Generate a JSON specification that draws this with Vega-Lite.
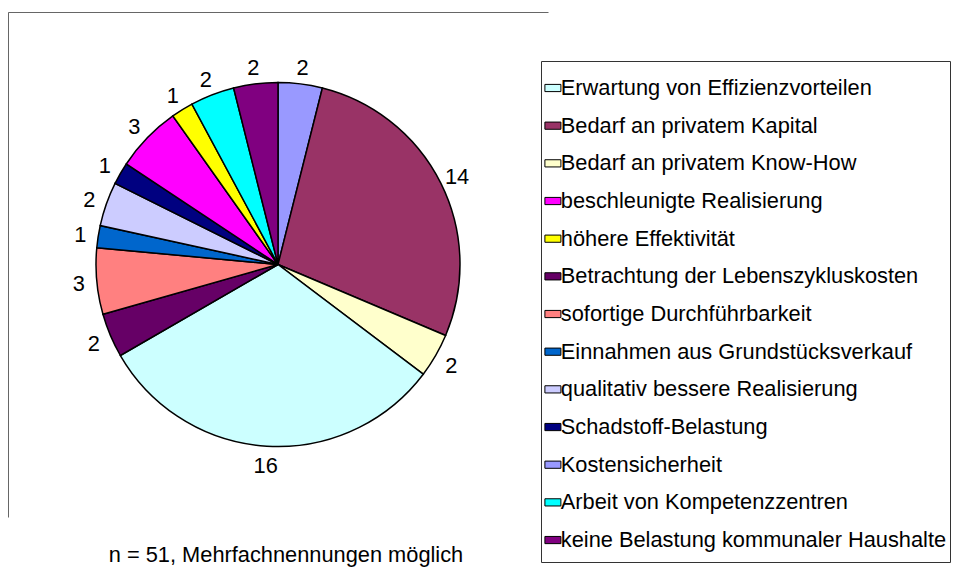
{
  "$schema": "https://vega.github.io/schema/vega-lite/v6.json",
  "width": 540,
  "height": 505,
  "autosize": {"type": "none"},
  "padding": {"left": 8, "top": 12, "right": 424, "bottom": 69},
  "background": "white",
  "view": {"stroke": "#666666", "strokeWidth": 1, "strokeDash": [540, 1045, 505, 100]},
  "data": {
    "values": [
      {"label": "Kostensicherheit", "count": 2, "seq": 1},
      {"label": "Bedarf an privatem Kapital", "count": 14, "seq": 2},
      {"label": "Bedarf an privatem Know-How", "count": 2, "seq": 3},
      {"label": "Erwartung von Effizienzvorteilen", "count": 16, "seq": 4},
      {"label": "Betrachtung der Lebenszykluskosten", "count": 2, "seq": 5},
      {"label": "sofortige Durchführbarkeit", "count": 3, "seq": 6},
      {"label": "Einnahmen aus Grundstücksverkauf", "count": 1, "seq": 7},
      {"label": "qualitativ bessere Realisierung", "count": 2, "seq": 8},
      {"label": "Schadstoff-Belastung", "count": 1, "seq": 9},
      {"label": "beschleunigte Realisierung", "count": 3, "seq": 10},
      {"label": "höhere Effektivität", "count": 1, "seq": 11},
      {"label": "Arbeit von Kompetenzzentren", "count": 2, "seq": 12},
      {"label": "keine Belastung kommunaler Haushalte", "count": 2, "seq": 13}
    ]
  },
  "title": {
    "text": "n = 51, Mehrfachnennungen möglich",
    "orient": "bottom",
    "anchor": "middle",
    "baseline": "alphabetic",
    "offset": -1,
    "dx": 8,
    "font": "Liberation Sans",
    "fontSize": 21.8,
    "fontWeight": "normal",
    "color": "black"
  },
  "layer": [
    {
      "mark": {"type": "arc", "outerRadius": 182, "stroke": "black", "strokeWidth": 1.5},
      "encoding": {
        "theta": {"field": "count", "type": "quantitative", "stack": true},
        "order": {"field": "seq", "type": "quantitative", "sort": "ascending"},
        "color": {
          "field": "label",
          "type": "nominal",
          "scale": {
            "domain": [
              "Erwartung von Effizienzvorteilen",
              "Bedarf an privatem Kapital",
              "Bedarf an privatem Know-How",
              "beschleunigte Realisierung",
              "höhere Effektivität",
              "Betrachtung der Lebenszykluskosten",
              "sofortige Durchführbarkeit",
              "Einnahmen aus Grundstücksverkauf",
              "qualitativ bessere Realisierung",
              "Schadstoff-Belastung",
              "Kostensicherheit",
              "Arbeit von Kompetenzzentren",
              "keine Belastung kommunaler Haushalte"
            ],
            "range": [
              "#CCFFFF", "#993366", "#FFFFCC", "#FF00FF", "#FFFF00", "#660066",
              "#FF8080", "#0066CC", "#CCCCFF", "#000080", "#9999FF", "#00FFFF", "#800080"
            ]
          },
          "legend": {
            "orient": "none",
            "legendX": 533,
            "legendY": 49,
            "title": " ",
            "titleFontSize": 2,
            "titlePadding": 4,
            "padding": 3,
            "strokeColor": "#333333",
            "fillColor": "white",
            "labelFont": "Liberation Sans",
            "labelFontSize": 21.8,
            "labelColor": "black",
            "labelOffset": -3,
            "labelLimit": 600,
            "symbolType": "M-1,-0.45H1V0.45H-1Z",
            "symbolSize": 256,
            "symbolOffset": -2,
            "symbolStrokeColor": "black",
            "symbolStrokeWidth": 1,
            "symbolOpacity": 1,
            "clipHeight": 36,
            "rowPadding": 1.67
          }
        }
      }
    },
    {
      "mark": {"type": "text", "radius": 200, "dy": 1.5, "font": "Liberation Sans", "fontSize": 21.8, "fill": "black", "align": "center", "baseline": "middle"},
      "encoding": {
        "theta": {"field": "count", "type": "quantitative", "stack": true},
        "order": {"field": "seq", "type": "quantitative", "sort": "ascending"},
        "text": {"field": "count", "type": "quantitative"}
      }
    }
  ]
}
